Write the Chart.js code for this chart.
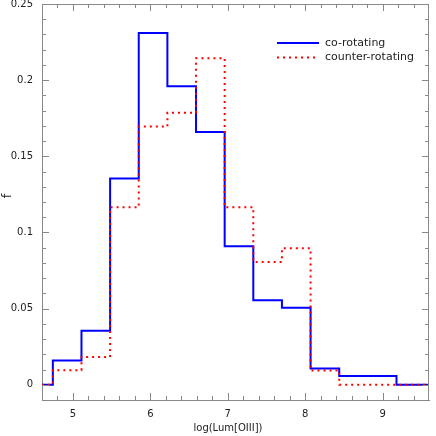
<!DOCTYPE html>
<html><head><meta charset="utf-8">
<script src="https://cdn.jsdelivr.net/npm/chart.js@4"></script>
<style>html,body{margin:0;padding:0;background:#fff;overflow:hidden}</style>
</head><body>
<canvas id="c" width="436" height="436"></canvas>
<script>
// ---- data ----
const binEdges = [4.74, 5.11, 5.48, 5.85, 6.22, 6.59, 6.96, 7.33, 7.70, 8.07, 8.44, 8.81, 9.18, 9.55];
const coRotating = [0.016, 0.0355, 0.1355, 0.231, 0.196, 0.166, 0.091, 0.0555, 0.0505, 0.0107, 0.0057, 0.0057, 0];
const counterRotating = [0.0096, 0.0183, 0.1165, 0.1695, 0.1786, 0.2144, 0.1165, 0.0806, 0.0897, 0.0094, 0, 0, 0];
const seriesLabels = ['co-rotating', 'counter-rotating'];
const xTickValues = [5, 6, 7, 8, 9];
const yTickValues = [0, 0.05, 0.1, 0.15, 0.2, 0.25];
const xRange = [4.6, 9.6];
const yRange = [-0.01, 0.25];
const xMinorStep = 0.2;
const yMinorStep = 0.01;
const xTitle = 'log(Lum[OIII])';
const yTitle = 'f';

function stepPoints(vals) {
  const pts = [{x: xRange[0], y: 0}];
  for (let i = 0; i < vals.length; i++) pts.push({x: binEdges[i], y: vals[i]});
  pts.push({x: binEdges[binEdges.length - 1], y: 0});
  pts.push({x: xRange[1], y: 0});
  return pts;
}

const FONT = 'DejaVu Sans';
const AXIS = '#888';
const TXT = '#222';

const decor = {
  id: 'decor',
  afterDatasetsDraw(chart) {
    const {ctx, chartArea: a, scales: {x, y}} = chart;
    ctx.save();
    ctx.strokeStyle = AXIS;
    ctx.lineWidth = 1;
    ctx.beginPath();
    ctx.moveTo(a.left, Math.round(a.top) + 0.5); ctx.lineTo(a.right, Math.round(a.top) + 0.5);
    ctx.moveTo(Math.round(a.right) - 0.5, a.top); ctx.lineTo(Math.round(a.right) - 0.5, a.bottom);
    ctx.stroke();
    const MAJ = 7, MIN = 4;
    ctx.beginPath();
    const nx = Math.round((xRange[1] - xRange[0]) / xMinorStep);
    for (let i = 1; i < nx; i++) {
      const v = +(xRange[0] + i * xMinorStep).toFixed(4);
      const major = xTickValues.some(t => Math.abs(t - v) < 1e-6);
      const len = major ? MAJ : MIN;
      const px = Math.round(x.getPixelForValue(v)) + 0.5;
      ctx.moveTo(px, a.bottom); ctx.lineTo(px, a.bottom - len);
      ctx.moveTo(px, a.top); ctx.lineTo(px, a.top + len);
    }
    const ny = Math.round((yRange[1] - yRange[0]) / yMinorStep);
    for (let i = 1; i < ny; i++) {
      const v = +(yRange[0] + i * yMinorStep).toFixed(4);
      const major = yTickValues.some(t => Math.abs(t - v) < 1e-6);
      const len = major ? MAJ : MIN;
      const py = Math.round(y.getPixelForValue(v)) + 0.5;
      ctx.moveTo(a.left, py); ctx.lineTo(a.left + len, py);
      ctx.moveTo(a.right, py); ctx.lineTo(a.right - len, py);
    }
    ctx.stroke();

    // legend
    const ds = chart.data.datasets;
    const lx0 = 277, lx1 = 319, tx = 325, ly = [43, 57.5];
    ctx.font = '11px "' + FONT + '"';
    ctx.textBaseline = 'middle';
    ctx.textAlign = 'left';
    ds.forEach((d, i) => {
      ctx.strokeStyle = d.borderColor;
      ctx.lineWidth = d.borderWidth;
      ctx.setLineDash(d.borderDash || []);
      ctx.beginPath(); ctx.moveTo(lx0, ly[i]); ctx.lineTo(lx1, ly[i]); ctx.stroke();
      ctx.setLineDash([]);
      ctx.fillStyle = TXT;
      ctx.fillText(d.label, tx, ly[i]);
    });

    // axis titles
    ctx.fillStyle = TXT;
    ctx.font = '10px "' + FONT + '"';
    ctx.textAlign = 'center';
    ctx.textBaseline = 'middle';
    ctx.fillText(xTitle, 228, 428);
    ctx.save();
    ctx.translate(11, 196);
    ctx.rotate(-Math.PI / 2);
    ctx.font = '13px "' + FONT + '"';
    ctx.textBaseline = 'alphabetic';
    ctx.fillText(yTitle, 0, 0);
    ctx.restore();
    ctx.restore();
  }
};

new Chart(document.getElementById('c'), {
  type: 'line',
  data: {
    datasets: [
      {label: seriesLabels[0], data: stepPoints(coRotating), stepped: 'before', borderColor: '#0000ff', borderWidth: 2, fill: false, pointRadius: 0, order: 1},
      {label: seriesLabels[1], data: stepPoints(counterRotating), stepped: 'before', borderColor: '#ff0000', borderWidth: 2, borderDash: [2, 4], fill: false, pointRadius: 0, order: 0}
    ]
  },
  options: {
    responsive: false,
    animation: false,
    devicePixelRatio: 1,
    layout: {padding: {top: 4, right: 7, left: 0, bottom: 0}},
    plugins: {legend: {display: false}, tooltip: {enabled: false}},
    scales: {
      x: {
        type: 'linear', min: xRange[0], max: xRange[1],
        afterBuildTicks: s => { s.ticks = xTickValues.map(v => ({value: v})); },
        afterFit: s => { s.height = 36; s.paddingLeft = 0; s.paddingRight = 0; },
        ticks: {font: {family: FONT, size: 10}, color: TXT, padding: 8, maxRotation: 0, autoSkip: false, callback: v => String(v)},
        grid: {drawOnChartArea: false, drawTicks: false},
        border: {display: true, color: AXIS, width: 1}
      },
      y: {
        type: 'linear', min: yRange[0], max: yRange[1],
        afterBuildTicks: s => { s.ticks = yTickValues.map(v => ({value: v})); },
        afterFit: s => { s.width = 42; s.paddingTop = 0; s.paddingBottom = 0; },
        ticks: {font: {family: FONT, size: 10}, color: TXT, padding: 9, autoSkip: false, callback: v => String(+(+v).toFixed(2))},
        grid: {drawOnChartArea: false, drawTicks: false},
        border: {display: true, color: AXIS, width: 1}
      }
    }
  },
  plugins: [decor]
});
</script>
</body></html>
